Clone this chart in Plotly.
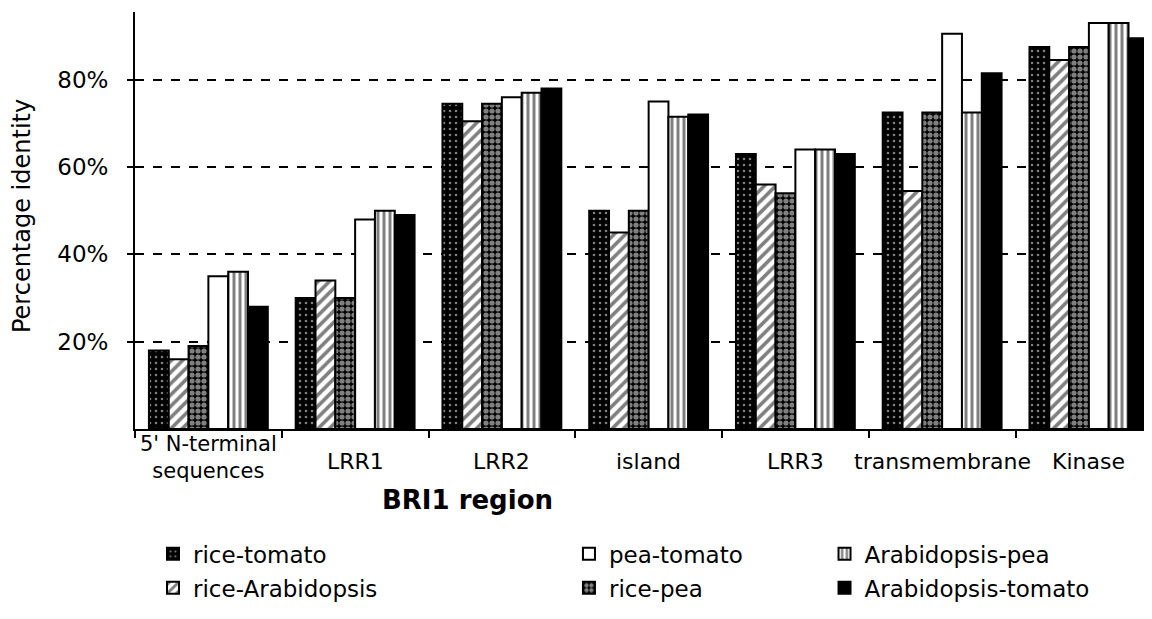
import plotly.graph_objects as go

categories = ["5' N-terminal sequences", "LRR1", "LRR2", "island", "LRR3", "transmembrane", "Kinase"]
category_lines = [["5' N-terminal", "sequences"], ["LRR1"], ["LRR2"], ["island"], ["LRR3"], ["transmembrane"], ["Kinase"]]

rice_tomato = [18, 30, 74.5, 50, 63, 72.5, 87.5]
rice_arabidopsis = [16, 34, 70.5, 45, 56, 54.5, 84.5]
rice_pea = [19, 30, 74.5, 50, 54, 72.5, 87.5]
pea_tomato = [35, 48, 76, 75, 64, 90.5, 93]
arabidopsis_pea = [36, 50, 77, 71.5, 64, 72.5, 93]
arabidopsis_tomato = [28, 49, 78, 72, 63, 81.5, 89.5]

y_ticks = [20, 40, 60, 80]
y_tick_labels = ["20%", "40%", "60%", "80%"]

FONT = "DejaVu Sans"

series = [
    ("rice-tomato", rice_tomato, "black", dict(shape=".", fgcolor="white", size=6, solidity=0.15, fillmode="overlay"), "legend", 1),
    ("rice-Arabidopsis", rice_arabidopsis, "white", dict(shape="/", fgcolor="black", size=8, solidity=0.45, fillmode="overlay"), "legend", 2),
    ("rice-pea", rice_pea, "black", dict(shape=".", fgcolor="white", size=6, solidity=0.6, fillmode="overlay"), "legend2", 4),
    ("pea-tomato", pea_tomato, "white", None, "legend2", 3),
    ("Arabidopsis-pea", arabidopsis_pea, "white", dict(shape="|", fgcolor="black", size=6, solidity=0.5, fillmode="overlay"), "legend3", 5),
    ("Arabidopsis-tomato", arabidopsis_tomato, "black", None, "legend3", 6),
]

fig = go.Figure()
for name, vals, color, pattern, leg, rank in series:
    marker = dict(color=color, line=dict(color="black", width=2))
    if pattern:
        marker["pattern"] = pattern
    fig.add_trace(go.Bar(
        x=categories, y=vals, name=name, marker=marker,
        legend=leg, legendgroup=name, legendrank=rank,
    ))

legend_common = dict(
    font=dict(family=FONT, size=23, color="black"),
    bgcolor="rgba(0,0,0,0)", borderwidth=0,
    xanchor="left", yanchor="top", tracegroupgap=1,
    orientation="v",
)

# page body has an 8px margin, so the figure is sized to fit the 1152x619 window
fig.update_layout(
    width=1144, height=611,
    margin=dict(l=127, r=0, t=4, b=190, pad=0, autoexpand=False),
    paper_bgcolor="white", plot_bgcolor="white",
    barmode="group", bargap=0.19, bargroupgap=0,
    font=dict(family=FONT, size=23, color="black"),
    showlegend=True,
    legend=dict(x=0.0177, y=-0.248, **legend_common),
    legend2=dict(x=0.4267, y=-0.248, **legend_common),
    legend3=dict(x=0.678, y=-0.248, **legend_common),
)

fig.update_xaxes(
    type="category", range=[-0.5, 6.43], automargin=False,
    showline=True, linecolor="black", linewidth=2,
    ticks="outside", tickson="boundaries", ticklen=7, tickwidth=2, tickcolor="black",
    showticklabels=False,
    showgrid=False, zeroline=False,
)

fig.update_yaxes(
    range=[0, 95.5], automargin=False,
    tickmode="array", tickvals=y_ticks, ticktext=y_tick_labels,
    tickfont=dict(family=FONT, size=23, color="black"),
    showline=True, linecolor="black", linewidth=2,
    ticks="outside", ticklen=6, tickwidth=2, tickcolor="black",
    ticklabelstandoff=14,
    showgrid=True, gridcolor="black", gridwidth=1.5, griddash="dash",
    zeroline=False,
)

# category labels (single-line labels sit level with the second line of the two-line one)
for cat, lines in zip(categories, category_lines):
    if len(lines) == 2:
        fig.add_annotation(
            text="<br>".join(lines), xref="x", yref="paper", x=cat, y=-0.068,
            xanchor="center", yanchor="middle", showarrow=False,
            font=dict(family=FONT, size=21, color="black"),
        )
    else:
        fig.add_annotation(
            text=lines[0], xref="x", yref="paper", x=cat, y=-0.079,
            xanchor="center", yanchor="middle", showarrow=False,
            font=dict(family=FONT, size=22, color="black"),
        )

fig.add_annotation(
    text="Percentage identity", textangle=-90,
    xref="paper", yref="paper", x=-0.111, y=0.511,
    xanchor="center", yanchor="middle", showarrow=False,
    font=dict(family=FONT, size=24, color="black"),
)
fig.add_annotation(
    text="<b>BRI1 region</b>",
    xref="paper", yref="paper", x=0.3265, y=-0.170,
    xanchor="center", yanchor="middle", showarrow=False,
    font=dict(family=FONT, size=26, color="black"),
)

fig.write_html("out.html")
